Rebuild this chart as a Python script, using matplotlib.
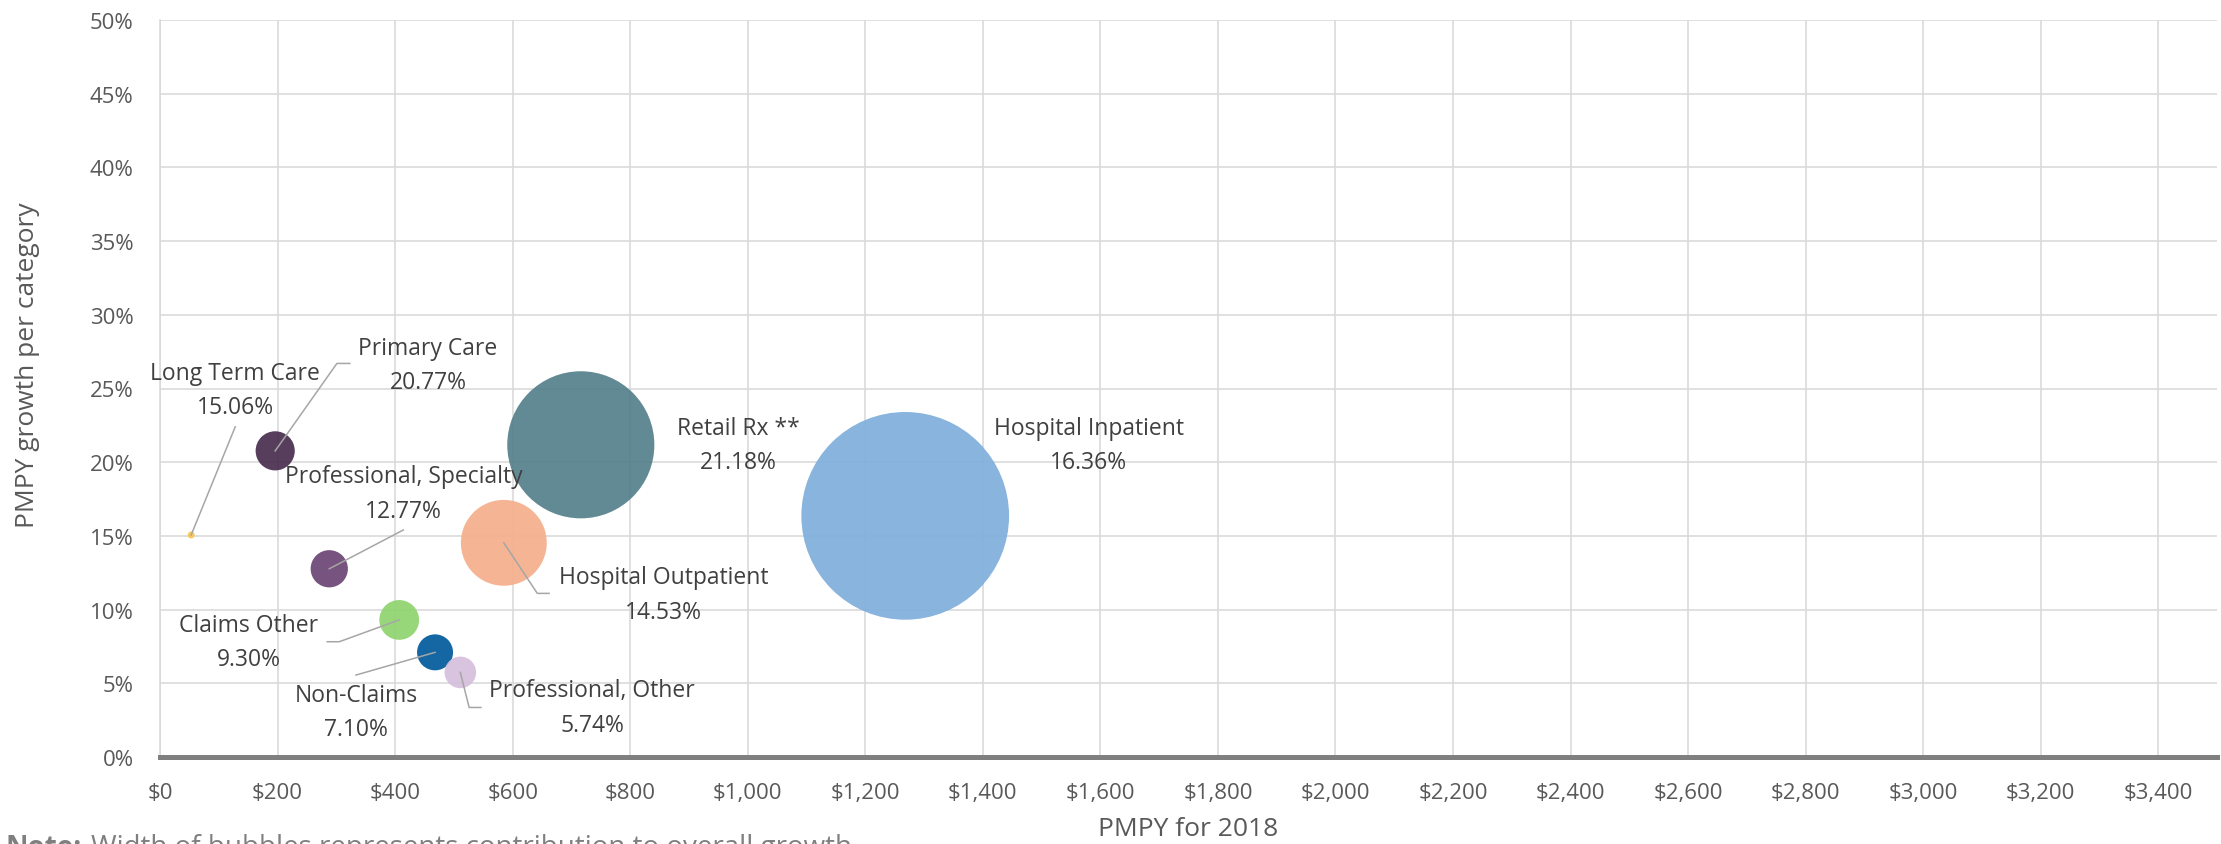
import numpy as np
import matplotlib
matplotlib.use("Agg")
import matplotlib.pyplot as plt
from matplotlib.ticker import FuncFormatter, MultipleLocator

# data
categories = ["Long Term Care", "Primary Care", "Professional, Specialty",
              "Claims Other", "Non-Claims", "Professional, Other",
              "Hospital Outpatient", "Retail Rx **", "Hospital Inpatient"]
pmpy_2018 = [53, 196, 288, 407, 468, 511, 585, 716, 1268]
growth_pct = [15.06, 20.77, 12.77, 9.30, 7.10, 5.74, 14.53, 21.18, 16.36]
# contribution to overall growth (bubble width), estimated
contribution = [1.1, 6.2, 5.9, 6.3, 5.7, 5.0, 13.6, 23.3, 32.9]

colors = ["#f9c74f", "#482d4e", "#6b4474", "#8fd46e", "#005a9b",
          "#d5bfdc", "#f5ae8a", "#55808b", "#7eaedc"]

# label placement (data coords) and leader elbow points
label_pos = {
    "Long Term Care": (128, 24.9, [(128, 22.4)]),
    "Primary Care": (456, 26.6, [(301, 26.7), (323, 26.7)]),
    "Professional, Specialty": (414, 17.9, [(414, 15.4)]),
    "Claims Other": (151, 7.8, [(305, 7.82), (284.5, 7.82)]),
    "Non-Claims": (333.5, 3.05, [(333.5, 5.56)]),
    "Professional, Other": (735, 3.36, [(526, 3.36), (546, 3.36)]),
    "Hospital Outpatient": (857, 11.05, [(642, 11.1), (662, 11.1)]),
    "Retail Rx **": (984, 21.17, []),
    "Hospital Inpatient": (1580, 21.17, []),
}

plt.rcParams["font.family"] = ["Open Sans", "DejaVu Sans"]

fig = plt.figure(figsize=(22.21, 8.45), dpi=100)
ax = fig.add_axes([160 / 2221, 87 / 845, 2057 / 2221, 737 / 845])

px_per_unit = 207.7 / 32.9
sizes = [(c * px_per_unit * 0.72) ** 2 for c in contribution]
ax.scatter(pmpy_2018, growth_pct, s=sizes, c=colors, alpha=0.92,
           edgecolors="none", zorder=3)

for name, x, y in zip(categories, pmpy_2018, growth_pct):
    tx, ty, path = label_pos[name]
    if path:
        xs = [x] + [p[0] for p in path]
        ys = [y] + [p[1] for p in path]
        ax.plot(xs, ys, color="#a6a6a6", lw=1.1, zorder=4)
    ax.text(tx, ty, f"{name}\n{y:.2f}%", ha="center", va="center",
            fontsize=16.5, color="#404040", linespacing=1.6, zorder=5)

ax.set_xlim(0, 3500)
ax.set_ylim(0, 50)
ax.xaxis.set_major_locator(MultipleLocator(200))
ax.yaxis.set_major_locator(MultipleLocator(5))
ax.xaxis.set_major_formatter(FuncFormatter(lambda v, p: f"${v:,.0f}"))
ax.yaxis.set_major_formatter(FuncFormatter(lambda v, p: f"{v:.0f}%"))
ax.grid(True, color="#d9d9d9", lw=1.15, zorder=0)
ax.set_axisbelow(True)
ax.tick_params(length=0, labelsize=16, labelcolor="#595959")
ax.tick_params(axis="y", pad=19)
ax.tick_params(axis="x", pad=18)

for s in ["top", "right"]:
    ax.spines[s].set_visible(False)
ax.spines["left"].set_color("#d9d9d9")
ax.spines["left"].set_linewidth(1.15)
ax.spines["bottom"].set_color("#7f7f7f")
ax.spines["bottom"].set_linewidth(3.6)
ax.spines["bottom"].set_zorder(6)

fig.text(1188 / 2221, 1 - 830 / 845, "PMPY for 2018", ha="center", va="center",
         fontsize=19, color="#595959")
fig.text(28 / 2221, 1 - 365 / 845, "PMPY growth per category", ha="center",
         va="center", rotation=90, fontsize=19, color="#595959")

# note at the bottom, cut off by the figure edge as in the original
note_y = 1 - 834 / 845
t_bold = fig.text(6 / 2221, note_y, "Note:", ha="left", va="top",
                  fontsize=20, fontweight="bold", color="#7f7f7f")
fig.canvas.draw()
bb = t_bold.get_window_extent(renderer=fig.canvas.get_renderer())
fig.text((bb.x1 + 9) / 2221, note_y,
         "Width of bubbles represents contribution to overall growth",
         ha="left", va="top", fontsize=20, color="#7f7f7f")

fig.savefig("out.png", dpi=100)
